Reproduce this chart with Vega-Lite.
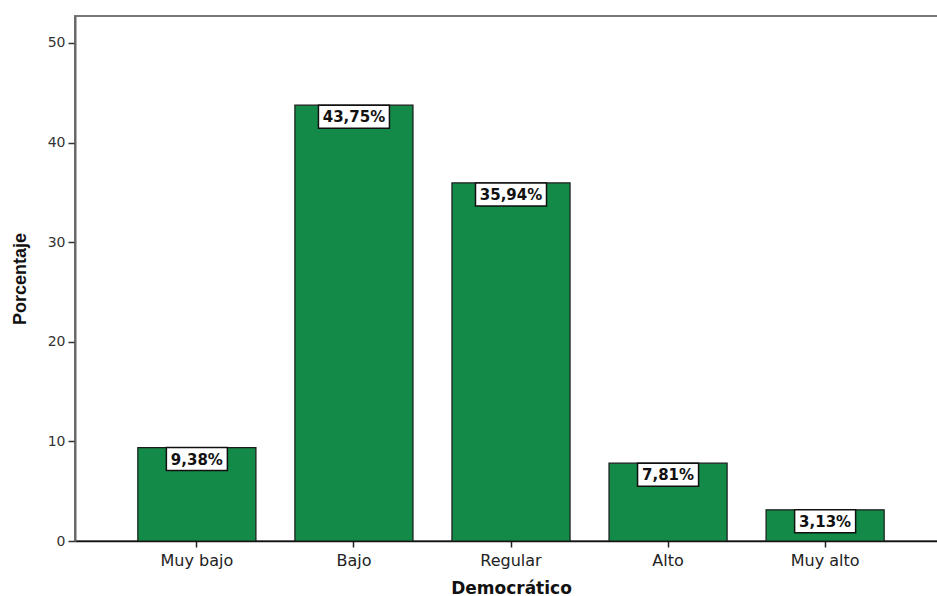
{
  "$schema": "https://vega.github.io/schema/vega-lite/v6.json",
  "width": 872,
  "height": 525,
  "autosize": {"type": "none"},
  "padding": {"left": 75, "top": 16, "right": 0, "bottom": 55},
  "background": "white",
  "data": {
    "values": [
      {"nivel": "Muy bajo", "porcentaje": 9.38, "etiqueta": "9,38%"},
      {"nivel": "Bajo", "porcentaje": 43.75, "etiqueta": "43,75%"},
      {"nivel": "Regular", "porcentaje": 35.94, "etiqueta": "35,94%"},
      {"nivel": "Alto", "porcentaje": 7.81, "etiqueta": "7,81%"},
      {"nivel": "Muy alto", "porcentaje": 3.13, "etiqueta": "3,13%"}
    ]
  },
  "encoding": {
    "x": {
      "field": "nivel",
      "type": "nominal",
      "sort": ["Muy bajo", "Bajo", "Regular", "Alto", "Muy alto"],
      "scale": {"paddingInner": 0.248, "paddingOuter": 0.4},
      "axis": {
        "title": "Democrático",
        "labelAngle": 0,
        "labelFont": "DejaVu Sans",
        "labelFontSize": 16,
        "labelColor": "#222",
        "labelPadding": 5,
        "tickSize": 6,
        "tickWidth": 1.5,
        "tickColor": "#222",
        "domainColor": "#111",
        "domainWidth": 1.5,
        "titleFont": "DejaVu Sans",
        "titleFontSize": 17,
        "titleFontWeight": "bold",
        "titleColor": "#111",
        "titlePadding": 12
      }
    },
    "y": {
      "field": "porcentaje",
      "type": "quantitative",
      "scale": {"domain": [0, 52.7], "nice": false},
      "axis": {
        "title": "Porcentaje",
        "values": [0, 10, 20, 30, 40, 50],
        "grid": false,
        "labelFont": "DejaVu Sans",
        "labelFontSize": 14,
        "labelColor": "#333",
        "labelPadding": 3,
        "tickSize": 7,
        "tickWidth": 1.5,
        "tickColor": "#333",
        "domainColor": "#666",
        "domainWidth": 2,
        "titleFont": "Liberation Sans",
        "titleFontSize": 18,
        "titleFontWeight": "bold",
        "titleColor": "#111",
        "titlePadding": 18
      }
    }
  },
  "layer": [
    {
      "mark": {"type": "bar", "color": "#138A47", "stroke": "#1a1a1a", "strokeWidth": 1.2}
    },
    {
      "transform": [{"filter": "length(datum.etiqueta) == 6"}],
      "mark": {"type": "bar", "width": 71, "fill": "white", "stroke": "#111", "strokeWidth": 1.5, "y2Offset": 23},
      "encoding": {"y2": {"field": "porcentaje"}}
    },
    {
      "transform": [{"filter": "length(datum.etiqueta) == 5"}],
      "mark": {"type": "bar", "width": 61, "fill": "white", "stroke": "#111", "strokeWidth": 1.5, "y2Offset": 23},
      "encoding": {"y2": {"field": "porcentaje"}}
    },
    {
      "mark": {"type": "text", "font": "DejaVu Sans", "fontSize": 15, "fontWeight": "bold", "color": "#111", "baseline": "middle", "align": "center", "yOffset": 12},
      "encoding": {"text": {"field": "etiqueta"}}
    }
  ],
  "config": {
    "view": {"stroke": "#777", "strokeWidth": 2}
  }
}
